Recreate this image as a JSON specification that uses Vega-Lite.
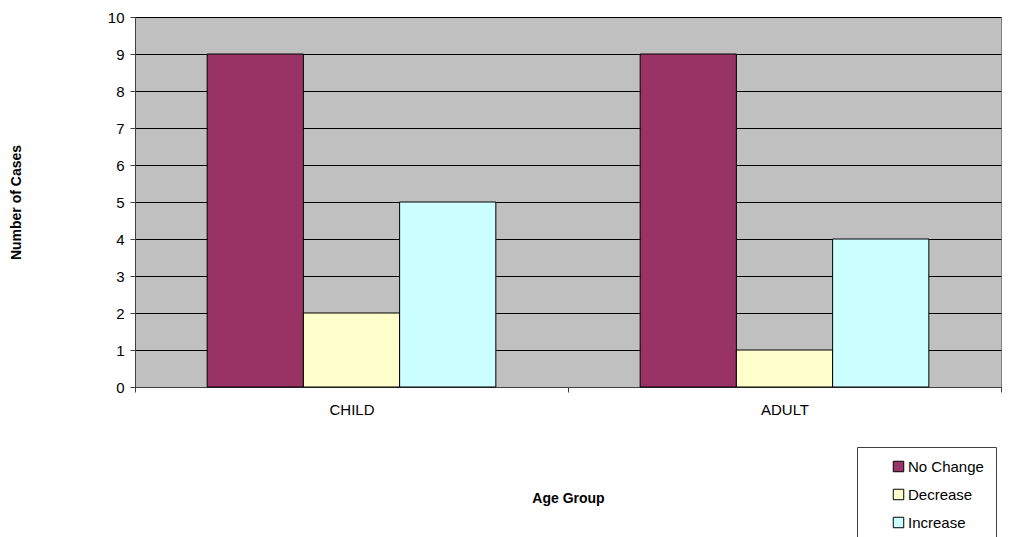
{
  "$schema": "https://vega.github.io/schema/vega-lite/v6.json",
  "width": 866,
  "height": 370,
  "autosize": {"type": "none"},
  "padding": {"left": 135, "top": 17, "right": 17, "bottom": 150},
  "background": "white",
  "config": {
    "font": "Liberation Sans",
    "view": {"fill": "#C0C0C0", "stroke": "#808080", "strokeWidth": 1}
  },
  "data": {
    "values": [
      {"group": "CHILD", "change": "No Change", "cases": 9},
      {"group": "CHILD", "change": "Decrease", "cases": 2},
      {"group": "CHILD", "change": "Increase", "cases": 5},
      {"group": "ADULT", "change": "No Change", "cases": 9},
      {"group": "ADULT", "change": "Decrease", "cases": 1},
      {"group": "ADULT", "change": "Increase", "cases": 4}
    ]
  },
  "mark": {"type": "bar", "stroke": "black", "strokeWidth": 1},
  "encoding": {
    "x": {
      "field": "group",
      "type": "nominal",
      "sort": ["CHILD", "ADULT"],
      "scale": {"paddingInner": 0, "paddingOuter": 0},
      "axis": {
        "title": "Age Group",
        "titleFontSize": 14,
        "titleFontWeight": "bold",
        "titleX": 433,
        "titleY": 104,
        "labelAngle": 0,
        "labelFontSize": 15,
        "labelColor": "black",
        "labelPadding": 10,
        "tickBand": "extent",
        "tickColor": "#404040",
        "tickSize": 5,
        "domainColor": "#404040",
        "grid": false
      }
    },
    "xOffset": {
      "field": "change",
      "type": "nominal",
      "sort": ["No Change", "Decrease", "Increase"],
      "scale": {"paddingInner": 0, "paddingOuter": 0.75}
    },
    "y": {
      "field": "cases",
      "type": "quantitative",
      "scale": {"domain": [0, 10], "nice": false},
      "axis": {
        "title": "Number of Cases",
        "titleFontSize": 14,
        "titleFontWeight": "bold",
        "titleAngle": -90,
        "titleX": -112,
        "titleY": 185,
        "values": [0,1,2,3,4,5,6,7,8,9,10],
        "labelOverlap": false,
        "labelFontSize": 15,
        "labelColor": "black",
        "labelPadding": 6,
        "tickSize": 5,
        "tickColor": "#404040",
        "domainColor": "#404040",
        "grid": true,
        "gridColor": "black",
        "gridOpacity": 1,
        "gridWidth": 1
      }
    },
    "color": {
      "field": "change",
      "type": "nominal",
      "sort": ["No Change", "Decrease", "Increase"],
      "scale": {"domain": ["No Change", "Decrease", "Increase"], "range": ["#993366", "#FFFFCC", "#CCFFFF"]},
      "legend": {
        "title": null,
        "orient": "none",
        "legendX": 722,
        "legendY": 430,
        "padding": 12,
        "symbolOffset": 22,
        "fillColor": "white",
        "strokeColor": "#404040",
        "symbolType": "square",
        "symbolSize": 110,
        "symbolStrokeColor": "black",
        "symbolStrokeWidth": 1,
        "symbolOpacity": 1,
        "labelFontSize": 15,
        "labelColor": "black",
        "labelOffset": 2,
        "rowPadding": 12
      }
    }
  }
}
